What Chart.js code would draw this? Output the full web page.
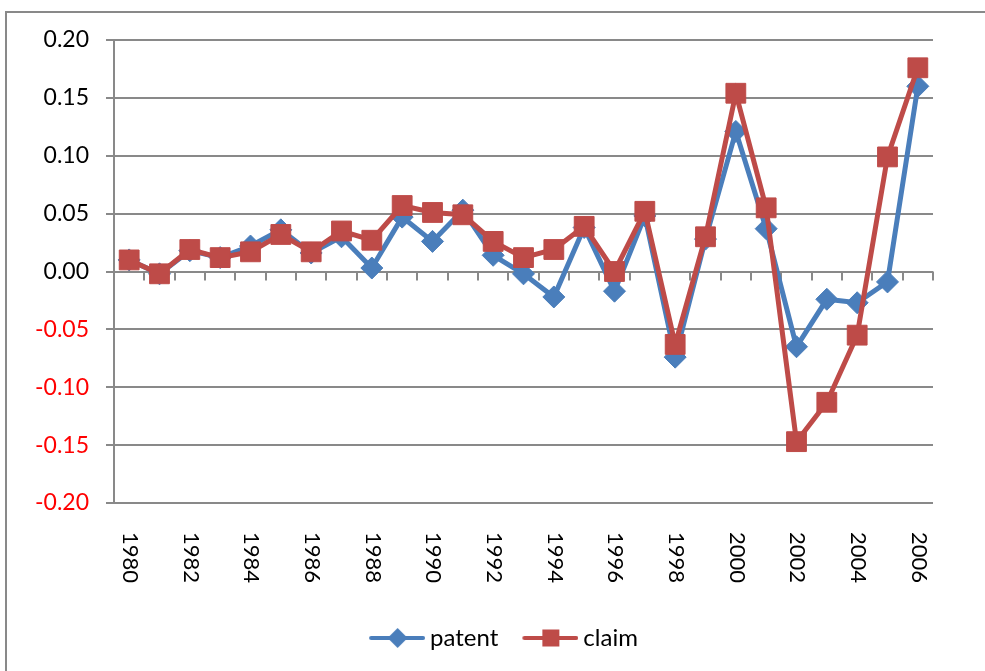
<!DOCTYPE html>
<html>
<head>
<meta charset="utf-8">
<script src="https://cdn.jsdelivr.net/npm/chart.js@4/dist/chart.umd.min.js"></script>
<style>
  body { margin: 0; background: #fff; }
</style>
</head>
<body>
<canvas id="growthChart" width="985" height="671"></canvas>
<script>
// data
var years = ['1980','1981','1982','1983','1984','1985','1986','1987','1988','1989',
  '1990','1991','1992','1993','1994','1995','1996','1997','1998','1999',
  '2000','2001','2002','2003','2004','2005','2006'];
var patent = [0.010, -0.002, 0.018, 0.012, 0.022, 0.036, 0.016, 0.030, 0.003, 0.047,
  0.026, 0.053, 0.014, -0.002, -0.022, 0.038, -0.017, 0.048, -0.074, 0.028,
  0.121, 0.037, -0.065, -0.024, -0.027, -0.009, 0.160];
var claim = [0.010, -0.002, 0.019, 0.012, 0.017, 0.032, 0.017, 0.035, 0.027, 0.057,
  0.051, 0.049, 0.026, 0.012, 0.019, 0.039, 0.000, 0.052, -0.063, 0.030,
  0.154, 0.055, -0.147, -0.113, -0.055, 0.099, 0.176];
var yTicks = [-0.20, -0.15, -0.10, -0.05, 0.00, 0.05, 0.10, 0.15, 0.20];

var BLUE = '#4a7ebb';
var RED = '#be4b48';
var GRID = '#898989';

// legend icon: short line with the marker in the middle
function legendIcon(color, shape) {
  var c = document.createElement('canvas');
  c.width = 63; c.height = 24;
  var g = c.getContext('2d');
  g.strokeStyle = color;
  g.lineWidth = 4;
  g.lineCap = 'round';
  g.beginPath(); g.moveTo(9, 12); g.lineTo(61, 12); g.stroke();
  g.fillStyle = color;
  if (shape == 'diamond') {
    g.beginPath();
    g.moveTo(35.5, 2); g.lineTo(45.5, 12); g.lineTo(35.5, 22); g.lineTo(25.5, 12);
    g.closePath(); g.fill();
  } else {
    g.fillRect(27, 3.5, 17, 17);
  }
  return c;
}
var icons = [legendIcon(BLUE, 'diamond'), legendIcon(RED, 'square')];

var framePlugin = {
  id: 'frame',
  beforeDraw: function(chart) {
    var ctx = chart.ctx;
    ctx.save();
    ctx.fillStyle = '#fff';
    ctx.fillRect(0, 0, chart.width, chart.height);
    ctx.strokeStyle = GRID;
    ctx.lineWidth = 2;
    ctx.strokeRect(6, 12, 1200, 900);
    ctx.restore();
  },
  // the legend sits a bit right of the page centre
  afterLayout: function(chart) {
    chart.legend.left = 74;
  }
};

// tick marks hanging off the zero line, and the vertical year labels
var yearAxisPlugin = {
  id: 'yearAxis',
  beforeDatasetsDraw: function(chart) {
    var ctx = chart.ctx, x = chart.scales.x, y = chart.scales.y;
    var y0 = y.getPixelForValue(0);
    var step = x.getPixelForValue(1) - x.getPixelForValue(0);
    ctx.save();
    ctx.strokeStyle = GRID;
    ctx.lineWidth = 2;
    for (var i = 0; i <= years.length; i++) {
      var px = Math.round(x.getPixelForValue(0) - step / 2 + i * step);
      ctx.beginPath(); ctx.moveTo(px, y0); ctx.lineTo(px, y0 + 9); ctx.stroke();
    }
    ctx.restore();
  },
  afterDraw: function(chart) {
    var ctx = chart.ctx, x = chart.scales.x;
    ctx.save();
    ctx.fillStyle = '#000';
    ctx.font = '22px Lato';
    ctx.textAlign = 'left';
    ctx.textBaseline = 'middle';
    years.forEach(function(lbl, i) {
      if (i % 2) return;
      ctx.save();
      ctx.translate(x.getPixelForValue(i) + 1, chart.chartArea.bottom + 29);
      ctx.rotate(Math.PI / 2);
      ctx.fillText(lbl, 0, 0);
      ctx.restore();
    });
    ctx.restore();
  }
};

var ctx = document.getElementById('growthChart').getContext('2d');
var myChart = new Chart(ctx, {
  type: 'line',
  data: {
    labels: years,
    datasets: [{
      label: 'patent',
      data: patent,
      order: 1,
      borderColor: BLUE,
      backgroundColor: BLUE,
      borderWidth: 5,
      pointStyle: 'rectRot',
      pointRadius: 11,
      pointBorderWidth: 1,
      tension: 0
    },
    {
      label: 'claim',
      data: claim,
      order: 0,
      borderColor: RED,
      backgroundColor: RED,
      borderWidth: 5,
      pointStyle: 'rect',
      pointRadius: 14,
      pointBorderWidth: 1,
      tension: 0
    }]
  },
  options: {
    responsive: false,
    animation: false,
    layout: { padding: { left: 0, right: 52, top: 40, bottom: 11 } },
    scales: {
      x: {
        offset: true,
        grid: { display: false },
        border: { display: false },
        ticks: { display: false },
        afterFit: function(s) { s.height = 99; }
      },
      y: {
        min: -0.2,
        max: 0.2,
        afterFit: function(s) { s.width = 114; },
        afterBuildTicks: function(s) {
          s.ticks = yTicks.map(function(v) { return { value: v }; });
        },
        grid: { color: GRID, lineWidth: 2, tickLength: 8 },
        border: { display: true, color: GRID, width: 2 },
        ticks: {
          padding: 17,
          font: { family: 'Lato', size: 23 },
          color: function(c) { return c.tick && c.tick.value < 0 ? '#ff0000' : '#000000'; },
          callback: function(v) { return v.toFixed(2); }
        }
      }
    },
    plugins: {
      tooltip: { enabled: false },
      legend: {
        position: 'bottom',
        labels: {
          usePointStyle: true,
          pointStyleWidth: 49,
          padding: 24,
          color: '#000',
          font: { family: 'Lato', size: 24 },
          sort: function(a, b) { return a.datasetIndex - b.datasetIndex; },
          generateLabels: function(chart) {
            var items = Chart.defaults.plugins.legend.labels.generateLabels(chart);
            items.forEach(function(it) { it.pointStyle = icons[it.datasetIndex]; });
            return items;
          }
        }
      }
    }
  },
  plugins: [framePlugin, yearAxisPlugin]
});
</script>
</body>
</html>
